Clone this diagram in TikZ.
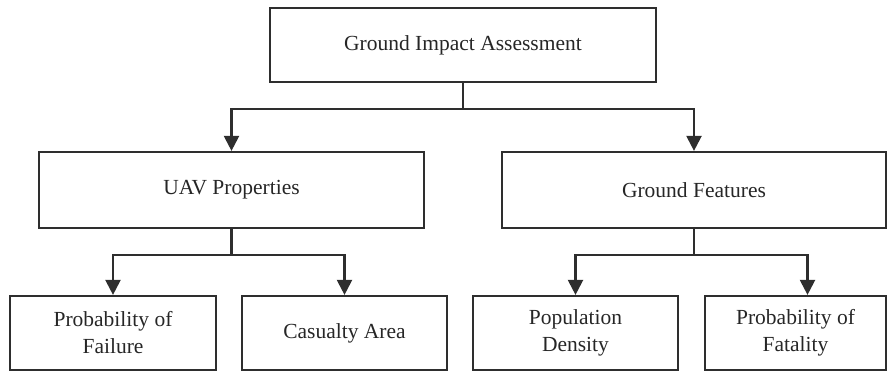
\documentclass[tikz,border=0pt]{standalone}
\usepackage{fontspec}
\setmainfont{Liberation Serif}
\usetikzlibrary{arrows.meta}

\begin{document}
\begin{tikzpicture}[x=1pt,y=-1pt,
    box/.style={draw=black!82,line width=2.2pt,inner sep=0,align=center,
        text=black!85,font=\fontsize{21.5}{27}\selectfont},
    arr/.style={draw=black!82,line width=2.2pt,-{Triangle[length=15pt,width=15pt]}},
    lnk/.style={draw=black!82,line width=2.2pt}]
    \useasboundingbox (0,0) rectangle (896,372);

    \node[box,minimum width=386,minimum height=74] (gia) at (463,45) {Ground Impact Assessment};

    \node[box,minimum width=385,minimum height=76] (uav) at (231.5,190) {UAV Properties};
    \node[box,minimum width=384,minimum height=76] (gf) at (694,190) {Ground Features};

    \node[box,minimum width=206,minimum height=74] (pof) at (113,333) {Probability of\\Failure};
    \node[box,minimum width=205,minimum height=74] (ca) at (344.5,333) {Casualty Area};
    \node[box,minimum width=205,minimum height=74] (pd) at (575.5,333) {Population\\Density};
    \node[box,minimum width=181,minimum height=74] (pfa) at (795.5,333) {Probability of\\Fatality};

    \coordinate (j0) at (463,109);
    \coordinate (j1) at (231.5,255);
    \coordinate (j2) at (694,255);

    % top level
    \draw[lnk] (gia.south) -- (j0);
    \draw[arr] (j0) -| (uav.north);
    \draw[arr] (j0) -| (gf.north);

    % uav branch
    \draw[lnk] (uav.south) -- (j1);
    \draw[arr] (j1) -| (pof.north);
    \draw[arr] (j1) -| (ca.north);

    % ground branch
    \draw[lnk] (gf.south) -- (j2);
    \draw[arr] (j2) -| (pd.north);
    \draw[arr] (j2) -| ([xshift=12pt]pfa.north);
\end{tikzpicture}
\end{document}
